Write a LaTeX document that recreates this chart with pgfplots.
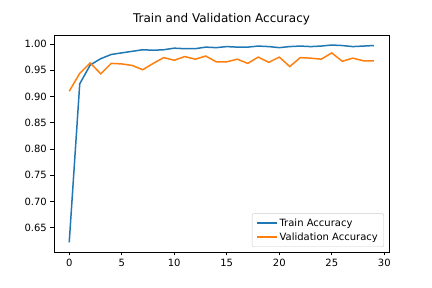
\documentclass[border=0pt]{standalone}
\usepackage{fontspec}
\setmainfont{DejaVu Sans}
\usepackage{pgfplots}
\pgfplotsset{compat=1.18}
\definecolor{mplblue}{HTML}{1F77B4}
\definecolor{mplorange}{HTML}{FF7F0E}
\begin{document}
\begin{tikzpicture}
\begin{axis}[
  scale only axis, width=335pt, height=217pt,
  xmin=-1.45, xmax=30.45, ymin=0.6037, ymax=1.0171,
  xtick={0,5,10,15,20,25,30},
  ytick={0.65,0.70,0.75,0.80,0.85,0.90,0.95,1.00},
  /pgf/number format/assume math mode=true,
  yticklabel style={xshift=-3.5pt, /pgf/number format/fixed, /pgf/number format/fixed zerofill, /pgf/number format/precision=2},
  ticklabel style={font=\fontsize{10}{12}\selectfont, inner sep=0pt},
  xticklabel style={yshift=-3.5pt},
  tick align=outside, tick pos=left,
  major tick length=3.5pt,
  tick style={line width=0.8pt, black},
  axis line style={line width=0.8pt},
  title={Train and Validation Accuracy},
  title style={font=\fontsize{12}{14}\selectfont, at={(0.5,1)}, anchor=base, yshift=6pt, inner sep=0pt},
  legend style={at={(1,0)}, anchor=south east, xshift=-5pt, yshift=5pt,
    font=\fontsize{10}{12}\selectfont, draw=white!80!black, rounded corners=2pt,
    fill=white, inner xsep=4pt, inner ysep=3pt, row sep=1pt},
  legend cell align=left,
  legend image code/.code={\draw[#1, line width=1.5pt] (0pt,0pt) -- (20pt,0pt);},
]
\addplot[mplblue, line width=1.5pt] coordinates {
(0,0.622) (1,0.924) (2,0.960) (3,0.972) (4,0.980) (5,0.983) (6,0.986) (7,0.989)
(8,0.988) (9,0.989) (10,0.992) (11,0.991) (12,0.991) (13,0.994) (14,0.993)
(15,0.995) (16,0.994) (17,0.994) (18,0.996) (19,0.995) (20,0.993) (21,0.995)
(22,0.996) (23,0.995) (24,0.996) (25,0.998) (26,0.997) (27,0.995) (28,0.996) (29,0.997)};
\addlegendentry{Train Accuracy}
\addplot[mplorange, line width=1.5pt] coordinates {
(0,0.910) (1,0.944) (2,0.964) (3,0.943) (4,0.963) (5,0.962) (6,0.959) (7,0.951)
(8,0.963) (9,0.974) (10,0.969) (11,0.976) (12,0.971) (13,0.977) (14,0.966)
(15,0.966) (16,0.971) (17,0.963) (18,0.975) (19,0.965) (20,0.975) (21,0.957)
(22,0.974) (23,0.973) (24,0.971) (25,0.983) (26,0.967) (27,0.973) (28,0.968) (29,0.968)};
\addlegendentry{Validation Accuracy}
\end{axis}
\pgfresetboundingbox
\path (current axis.south west) ++(-54pt,-36pt) rectangle ++(432pt,288pt);
\end{tikzpicture}
\end{document}
